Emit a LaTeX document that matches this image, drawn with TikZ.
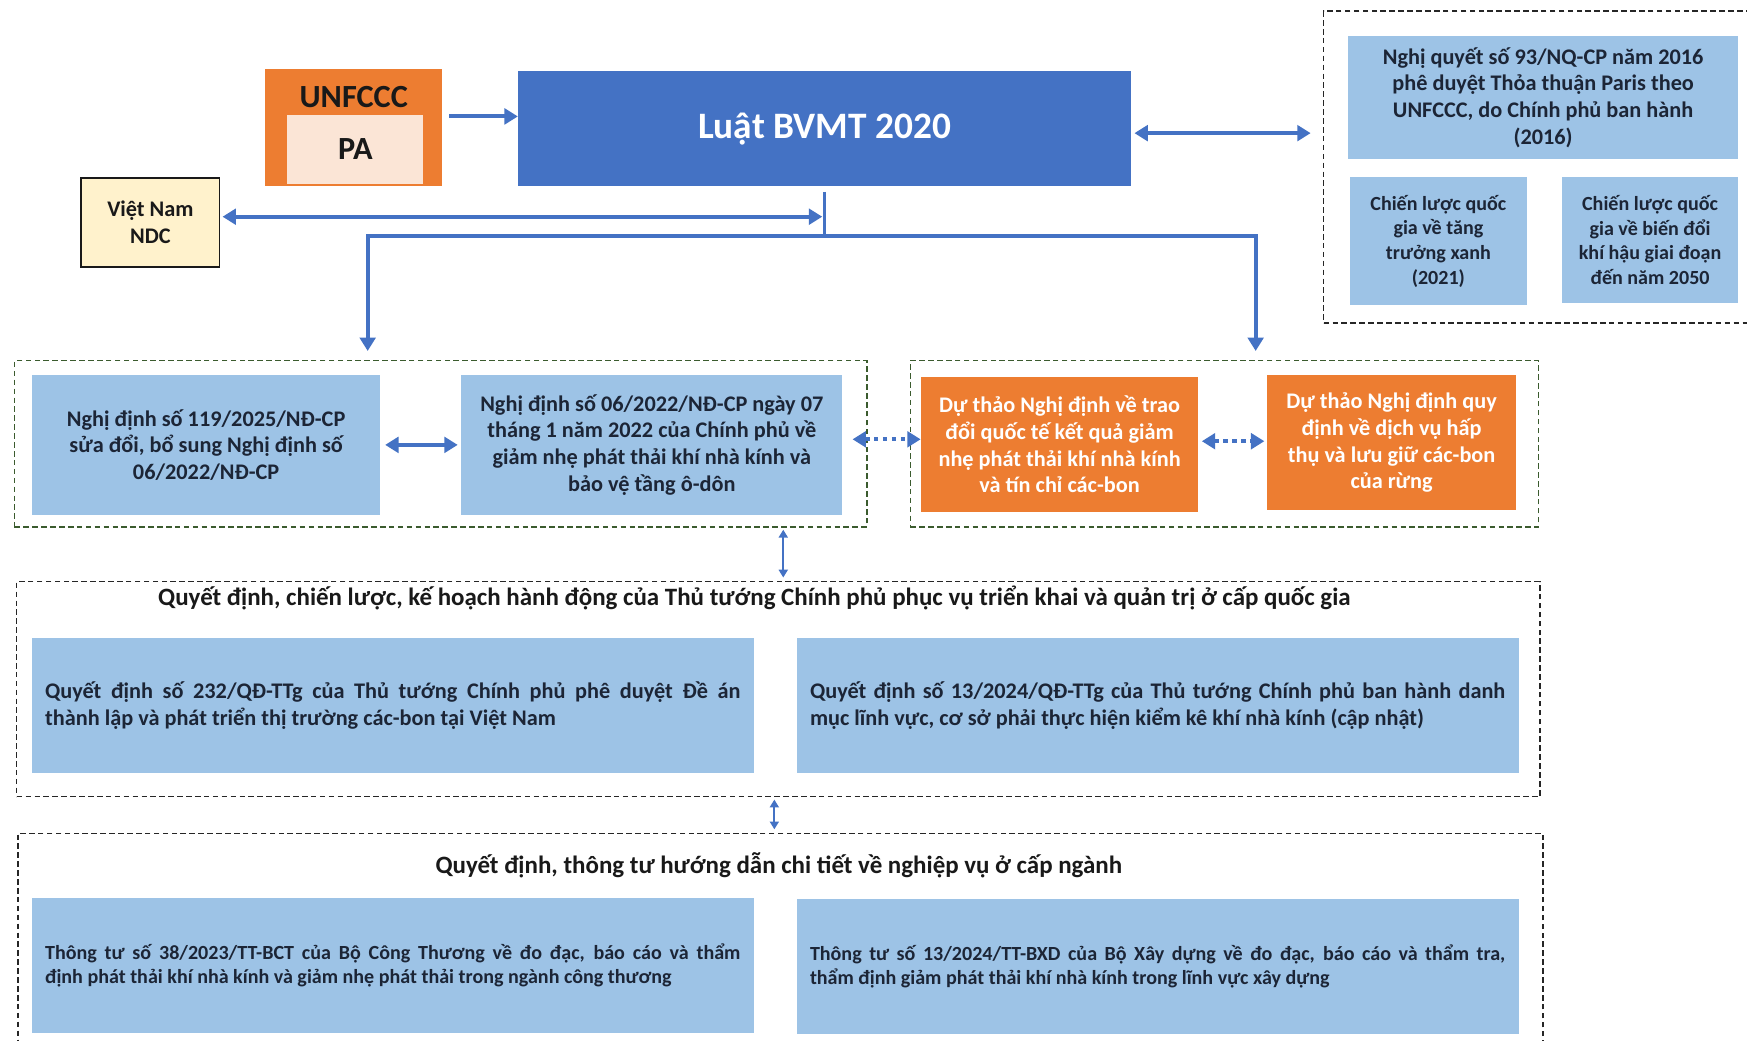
\documentclass[tikz,border=0pt]{standalone}
\usepackage{fontspec}
\setmainfont{Carlito}
\usetikzlibrary{arrows.meta}
\definecolor{lawblue}{HTML}{4472C4}
\definecolor{docblue}{HTML}{9DC3E6}
\definecolor{doctext}{HTML}{1C2536}
\definecolor{draftorange}{HTML}{ED7D31}
\definecolor{pabg}{HTML}{FBE5D6}
\definecolor{ndcbg}{HTML}{FFF2CC}
\definecolor{grpgreen}{HTML}{3B5B2E}
\newcommand{\sizept}[2]{\fontsize{#1pt}{#2pt}\selectfont\bfseries}
\begin{document}
\begin{tikzpicture}[x=1pt,y=-1pt,
    box/.style={inner sep=0pt,align=center,text=black!90},
    doc/.style={box,fill=docblue,text=doctext,font=\sizept{20}{24}},
    draft/.style={box,fill=draftorange,text=white,font=\sizept{20}{24}},
    wide/.style={doc,align=justify,text width=624pt,inner xsep=12pt,minimum height=121pt},
    group/.style={draw=black!85,line width=1.3pt,dash pattern=on 5pt off 3pt,inner sep=0pt},
    link/.style={draw=lawblue,line width=3.5pt,>={Triangle[length=12pt,width=14pt]}},
    dotlink/.style={link,dash pattern=on 4pt off 4pt},
    thinlink/.style={draw=lawblue,line width=1.8pt,>={Triangle[length=7pt,width=8pt]}}]
\useasboundingbox[fill=white] (0,0) rectangle (1568,934);

% top row
\node[box,fill=draftorange,minimum width=159pt,minimum height=105pt] (unfccc) at (317.5,114.5) {};
\node[box,fill=pabg,minimum width=122pt,minimum height=62pt,font=\sizept{29}{32}] (pa) at (319,134) {PA};
\node[box,font=\sizept{29}{32}] (unfccctxt) at (317.5,87.5) {UNFCCC};
\node[box,fill=lawblue,text=white,minimum width=550pt,minimum height=103pt,font=\sizept{33.5}{36}] (law) at (740,115.5) {Luật BVMT 2020};
\node[box,fill=ndcbg,draw=black!90,line width=1.5pt,minimum width=124pt,minimum height=80pt,font=\sizept{20}{24}] (ndc) at (135,199.5) {Việt Nam\\NDC};

\node[group,minimum width=384pt,minimum height=280pt] (grptr) at (1380,150) {};
\node[doc,minimum width=350pt,minimum height=111pt] (nq93) at (1385,87.5) {Nghị quyết số 93/NQ-CP năm 2016\\phê duyệt Thỏa thuận Paris theo\\UNFCCC, do Chính phủ ban hành\\(2016)};
\node[doc,minimum width=159pt,minimum height=115pt,font=\sizept{18}{22}] (cltx) at (1291,216.5) {Chiến lược quốc\\gia về tăng\\trưởng xanh\\(2021)};
\node[doc,minimum width=158pt,minimum height=113pt,font=\sizept{18}{22}] (clbd) at (1481,215.5) {Chiến lược quốc\\gia về biến đổi\\khí hậu giai đoạn\\đến năm 2050};

% nghi dinh
\node[group,draw=grpgreen,minimum width=765pt,minimum height=149pt] (grpnd) at (395.5,398.3) {};
\node[doc,minimum width=313pt,minimum height=125pt] (nd119) at (185,399.3) {Nghị định số 119/2025/NĐ-CP\\sửa đổi, bổ sung Nghị định số\\06/2022/NĐ-CP};
\node[doc,minimum width=342pt,minimum height=125pt] (nd06) at (585,399.3) {Nghị định số 06/2022/NĐ-CP ngày 07\\tháng 1 năm 2022 của Chính phủ về\\giảm nhẹ phát thải khí nhà kính và\\bảo vệ tầng ô-dôn};
\node[group,draw=grpgreen,minimum width=564pt,minimum height=149pt] (grpdt) at (1099,398.3) {};
\node[draft,minimum width=249pt,minimum height=121pt] (dt1) at (951,399) {Dự thảo Nghị định về trao\\đổi quốc tế kết quả giảm\\nhẹ phát thải khí nhà kính\\và tín chỉ các-bon};
\node[draft,minimum width=224pt,minimum height=121pt] (dt2) at (1249,397.3) {Dự thảo Nghị định quy\\định về dịch vụ hấp\\thụ và lưu giữ các-bon\\của rừng};

% quoc gia
\node[group,minimum width=1367pt,minimum height=193pt] (grpqg) at (698.5,618.5) {};
\node[box,font=\sizept{22.4}{26}] (qgtitle) at (677,537) {Quyết định, chiến lược, kế hoạch hành động của Thủ tướng Chính phủ phục vụ triển khai và quản trị ở cấp quốc gia};
\node[wide] (qd232) at (352.5,633.5) {Quyết định số 232/QĐ-TTg của Thủ tướng Chính phủ phê duyệt Đề án\linebreak thành lập và phát triển thị trường các-bon tại Việt Nam};
\node[wide] (qd13) at (1039,633.5) {Quyết định số 13/2024/QĐ-TTg của Thủ tướng Chính phủ ban hành danh\linebreak mục lĩnh vực, cơ sở phải thực hiện kiểm kê khí nhà kính (cập nhật)};

% nganh
\node[group,minimum width=1369pt,minimum height=205pt] (grpng) at (700.5,850.5) {};
\node[box,font=\sizept{22.4}{26}] (ngtitle) at (699,777) {Quyết định, thông tư hướng dẫn chi tiết về nghiệp vụ ở cấp ngành};
\node[wide,font=\sizept{18}{22}] (tt38) at (352.5,866.5) {Thông tư số 38/2023/TT-BCT của Bộ Công Thương về đo đạc, báo cáo và thẩm\linebreak định phát thải khí nhà kính và giảm nhẹ phát thải trong ngành công thương};
\node[wide,font=\sizept{18}{22}] (tt13) at (1039,867.5) {Thông tư số 13/2024/TT-BXD của Bộ Xây dựng về đo đạc, báo cáo và thẩm tra,\linebreak thẩm định giảm phát thải khí nhà kính trong lĩnh vực xây dựng};

% links
\coordinate (hub) at (740,212);
\coordinate (downl) at (330,315);
\coordinate (downr) at (1127,315);
\coordinate (ndcy) at ([yshift=5pt]ndc.east);
\coordinate (vx1) at (703,0);
\coordinate (vx2) at (695,0);
\draw[link,->,shorten <=6pt] ([yshift=10pt]unfccc.east) -- ([yshift=10pt]unfccc.east -| law.west);
\draw[link,<->,shorten <=3pt,shorten >=11pt] ([yshift=-4pt]law.east) -- ([yshift=-4pt]law.east -| grptr.west);
\draw[link] ([yshift=-5pt]law.south) -- (hub);
\draw[link,->] (hub) -| (downl);
\draw[link,->] (hub) -| (downr);
\draw[link,<->,shorten <=2pt,shorten >=2pt] (ndcy) -- (ndcy -| hub);
\draw[link,<->,shorten <=4pt,shorten >=3pt] (nd119) -- (nd06);
\draw[dotlink,<->,shorten <=9pt] ([yshift=5pt]nd06.east) -- ([yshift=5pt]nd06.east -| dt1.west);
\draw[dotlink,<->,shorten <=3pt,shorten >=2pt] ([yshift=3pt]dt1.east) -- ([yshift=3pt]dt1.east -| dt2.west);
\draw[thinlink,<->,shorten <=2pt,shorten >=3pt] (grpnd.south -| vx1) -- (grpqg.north -| vx1);
\draw[thinlink,<->,shorten <=2pt,shorten >=3pt] (grpqg.south -| vx2) -- (grpng.north -| vx2);
\end{tikzpicture}
\end{document}
